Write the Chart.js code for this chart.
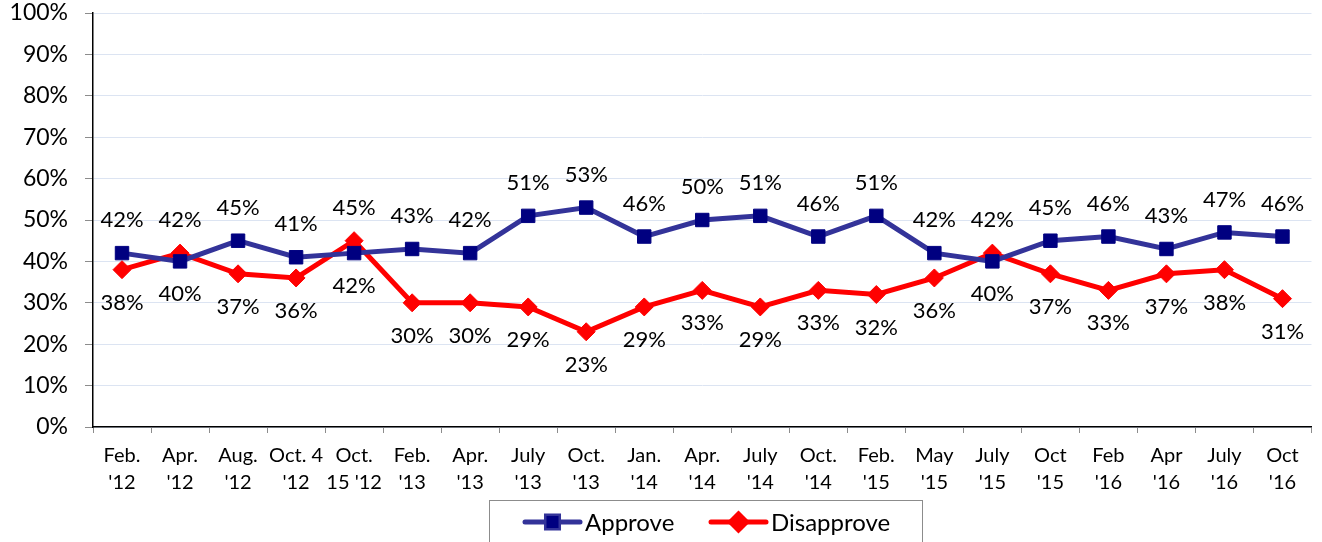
<!DOCTYPE html>
<html>
<head>
<meta charset="utf-8">
<script src="https://cdn.jsdelivr.net/npm/chart.js@4.4.1/dist/chart.umd.min.js"></script>
<style>
  html, body { margin: 0; padding: 0; background: #fff; }
</style>
</head>
<body>
<canvas id="chart" width="1322" height="542"></canvas>
<script>
var labels = [
  ["Feb.", "'12"], ["Apr.", "'12"], ["Aug.", "'12"], ["Oct. 4", "'12"], ["Oct.", "15 '12"],
  ["Feb.", "'13"], ["Apr.", "'13"], ["July", "'13"], ["Oct.", "'13"], ["Jan.", "'14"],
  ["Apr.", "'14"], ["July", "'14"], ["Oct.", "'14"], ["Feb.", "'15"], ["May", "'15"],
  ["July", "'15"], ["Oct", "'15"], ["Feb", "'16"], ["Apr", "'16"], ["July", "'16"], ["Oct", "'16"]
]
var approve = [42, 40, 45, 41, 42, 43, 42, 51, 53, 46, 50, 51, 46, 51, 42, 40, 45, 46, 43, 47, 46]
var disapprove = [38, 42, 37, 36, 45, 30, 30, 29, 23, 29, 33, 29, 33, 32, 36, 42, 37, 33, 37, 38, 31]
var seriesNames = ["Approve", "Disapprove"]

var FONT = "Lato, 'Liberation Sans', sans-serif"

// value labels: the higher of the two goes above its point, the lower below
var valueLabels = {
  id: "valueLabels",
  afterDatasetsDraw: function(chart) {
    var ctx = chart.ctx
    ctx.save()
    ctx.font = "22px " + FONT
    ctx.fillStyle = "#000"
    ctx.textAlign = "center"
    ctx.textBaseline = "middle"
    chart.data.datasets.forEach(function(ds, di) {
      var other = chart.data.datasets[1 - di].data
      chart.getDatasetMeta(di).data.forEach(function(pt, i) {
        var up = ds.data[i] > other[i]
        ctx.fillText(ds.data[i] + "%", pt.x, up ? pt.y - 33 : pt.y + 33)
      })
    })
    ctx.restore()
  }
}

// boxed legend at the bottom
var boxLegend = {
  id: "boxLegend",
  afterDraw: function(chart) {
    var ctx = chart.ctx
    ctx.save()
    ctx.strokeStyle = "#8c8c8c"
    ctx.lineWidth = 1
    ctx.strokeRect(489.5, 500.5, 433, 60)
    var starts = [525, 711]
    ctx.font = "24px " + FONT
    ctx.textBaseline = "middle"
    chart.data.datasets.forEach(function(ds, i) {
      var x = starts[i], y = 522
      ctx.strokeStyle = ds.borderColor
      ctx.lineWidth = 5
      ctx.lineCap = "round"
      ctx.beginPath()
      ctx.moveTo(x, y)
      ctx.lineTo(x + 55, y)
      ctx.stroke()
      Chart.helpers.drawPoint(ctx, {
        pointStyle: ds.pointStyle, radius: ds.pointRadius - 1, rotation: 0, borderWidth: 1
      }, x + 27.5, y)
      ctx.fillStyle = ds.pointBackgroundColor
      ctx.fill()
      ctx.fillStyle = "#000"
      ctx.fillText(ds.label, x + 60, y + 1)
    })
    ctx.restore()
  }
}

new Chart(document.getElementById("chart"), {
  type: "line",
  data: {
    labels: labels,
    datasets: [{
      label: seriesNames[0],
      data: approve,
      borderColor: "#333399",
      borderWidth: 5,
      pointStyle: "rect",
      pointRadius: 9.5,
      pointBackgroundColor: "#000080",
      pointBorderColor: "#000080",
      pointBorderWidth: 1
    }, {
      label: seriesNames[1],
      data: disapprove,
      borderColor: "#ff0000",
      borderWidth: 5,
      pointStyle: "rectRot",
      pointRadius: 9,
      pointBackgroundColor: "#ff0000",
      pointBorderColor: "#ff0000",
      pointBorderWidth: 1
    }]
  },
  options: {
    responsive: false,
    animation: false,
    layout: { padding: { top: 13, right: 4, left: 0, bottom: 0 } },
    plugins: {
      legend: { display: false },
      tooltip: { enabled: false }
    },
    scales: {
      x: {
        offset: true,
        grid: { offset: true, drawOnChartArea: false, tickLength: 6, tickColor: "#8c8c8c" },
        border: { color: "#000", width: 1.5 },
        ticks: {
          color: "#000", font: { family: FONT, size: 20, lineHeight: 1.35 },
          maxRotation: 0, autoSkip: false, padding: 9
        },
        afterFit: function(scale) {
          scale.height = 115
          scale.paddingLeft = 0
          scale.paddingRight = 0
        }
      },
      y: {
        min: 0, max: 100,
        grid: { color: "#dce4f2", tickLength: 8, tickColor: "#8c8c8c" },
        border: { color: "#000", width: 1.5 },
        ticks: {
          stepSize: 10, color: "#000", padding: 17,
          font: { family: FONT, size: 23 },
          callback: function(v) { return v + "%" }
        },
        afterFit: function(scale) {
          scale.width = 93
          scale.paddingTop = 0
          scale.paddingBottom = 0
        }
      }
    }
  },
  plugins: [valueLabels, boxLegend]
})
</script>
</body>
</html>
